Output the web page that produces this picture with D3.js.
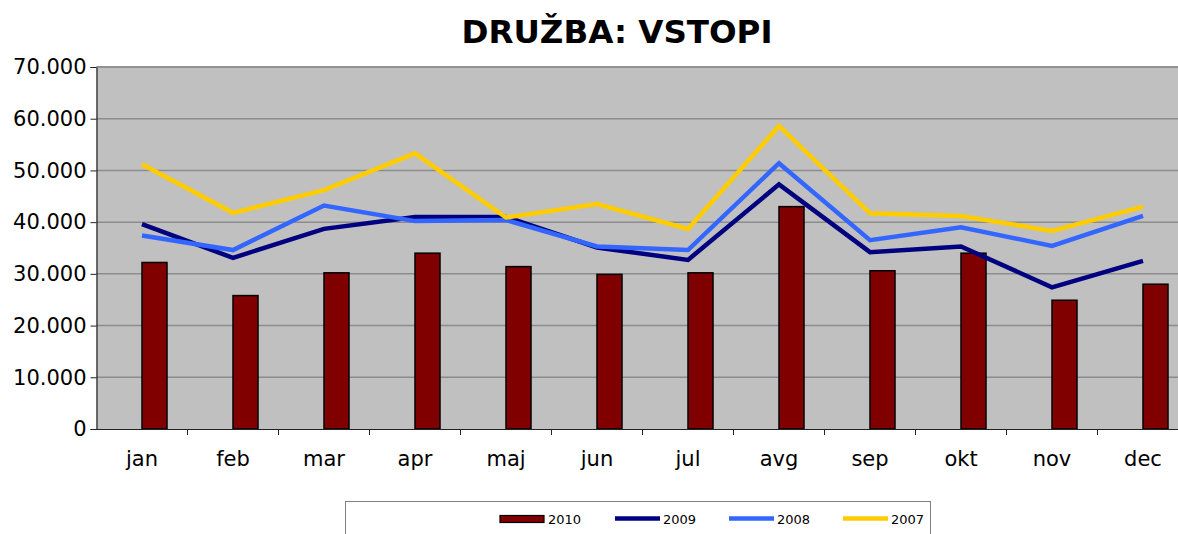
<!DOCTYPE html>
<html>
<head>
<meta charset="utf-8">
<script src="https://cdn.jsdelivr.net/npm/d3@7"></script>
<style>
  html, body { margin: 0; padding: 0; background: #fff; overflow: hidden; }
  svg { display: block; font-family: "DejaVu Sans", Verdana, sans-serif; }
</style>
</head>
<body>
<svg id="chart" width="1178" height="534"></svg>
<script>
(function() {
  'use strict';

  // --- data ---
  const months = ['jan', 'feb', 'mar', 'apr', 'maj', 'jun', 'jul', 'avg', 'sep', 'okt', 'nov', 'dec'];
  const v2010 = [32200, 25800, 30200, 34000, 31400, 29900, 30200, 43000, 30600, 34000, 24900, 28000];
  const v2009 = [39600, 33100, 38700, 41000, 41000, 35100, 32700, 47300, 34200, 35300, 27400, 32500];
  const v2008 = [37400, 34600, 43200, 40200, 40400, 35300, 34600, 51400, 36500, 39000, 35400, 41200];
  const v2007 = [51200, 41800, 46200, 53300, 40900, 43500, 38700, 58600, 41700, 41200, 38300, 43000];
  const yTicks = [0, 10000, 20000, 30000, 40000, 50000, 60000, 70000];
  const lineSeries = [
    { name: '2009', values: v2009, color: '#000080' },
    { name: '2008', values: v2008, color: '#3366ff' },
    { name: '2007', values: v2007, color: '#ffcc00' }
  ];

  const svg = d3.select('#chart');

  // plot area (runs past the right edge of the window, as in the original)
  const left = 96.5, top = 67, bottom = 429;
  const bandW = 91;
  const right = left + bandW * months.length;

  const x = d3.scaleBand().domain(months).range([left, right]);
  const y = d3.scaleLinear().domain([0, 70000]).range([bottom, top]);
  const fmt = d => d3.format(',')(d).replace(/,/g, '.');

  // Background
  svg.append('rect')
    .attr('x', left).attr('y', top)
    .attr('width', right - left).attr('height', bottom - top)
    .attr('fill', '#c0c0c0');

  // Gridlines
  svg.append('g')
    .selectAll('line')
    .data(yTicks.filter(d => d > 0))
    .enter()
    .append('line')
    .attr('x1', left).attr('x2', right)
    .attr('y1', d => y(d)).attr('y2', d => y(d))
    .attr('stroke', '#8c8c8c')
    .attr('stroke-width', 1.5);

  // Bars (2010) - drawn from category centre to the right
  const barW = 25;
  svg.append('g')
    .selectAll('rect')
    .data(v2010)
    .enter()
    .append('rect')
    .attr('x', (d, i) => x(months[i]) + bandW / 2)
    .attr('y', d => y(d))
    .attr('width', barW)
    .attr('height', d => bottom - y(d))
    .attr('fill', '#800000')
    .attr('stroke', '#000')
    .attr('stroke-width', 1.5);

  // Lines
  const line = d3.line()
    .x((d, i) => x(months[i]) + bandW / 2)
    .y(d => y(d));

  svg.append('g')
    .selectAll('path')
    .data(lineSeries)
    .enter()
    .append('path')
    .attr('d', d => line(d.values))
    .attr('fill', 'none')
    .attr('stroke', d => d.color)
    .attr('stroke-width', 4.5)
    .attr('stroke-linejoin', 'miter');

  // Y axis
  const yAxis = svg.append('g')
    .attr('transform', `translate(${left},0)`)
    .call(d3.axisLeft(y).tickValues(yTicks).tickFormat(fmt).tickSize(6).tickPadding(4));
  yAxis.select('.domain').attr('stroke', '#222').attr('stroke-width', 1.2);
  yAxis.selectAll('.tick line').attr('stroke', '#222');
  yAxis.selectAll('.tick text')
    .attr('font-family', '"DejaVu Sans", Verdana, sans-serif')
    .attr('font-size', 21)
    .attr('fill', '#000');

  // X axis
  const xAxis = svg.append('g')
    .attr('transform', `translate(0,${bottom})`)
    .call(d3.axisBottom(x).tickSize(0).tickPadding(22));
  xAxis.select('.domain').attr('stroke', '#222').attr('stroke-width', 1.2);
  xAxis.selectAll('.tick text')
    .attr('font-family', '"DejaVu Sans", Verdana, sans-serif')
    .attr('font-size', 21)
    .attr('fill', '#000');

  // category boundary ticks
  svg.append('g')
    .selectAll('line')
    .data(months.slice(1))
    .enter()
    .append('line')
    .attr('x1', d => x(d)).attr('x2', d => x(d))
    .attr('y1', bottom).attr('y2', bottom + 6)
    .attr('stroke', '#222');

  // Top border of plot area
  svg.append('line')
    .attr('x1', left).attr('x2', right)
    .attr('y1', top).attr('y2', top)
    .attr('stroke', '#8c8c8c')
    .attr('stroke-width', 1.5);

  // Title
  svg.append('text')
    .attr('x', 617).attr('y', 43)
    .attr('text-anchor', 'middle')
    .attr('font-size', 32.5)
    .attr('font-weight', 'bold')
    .text('DRUŽBA: VSTOPI');

  // Legend
  const legend = svg.append('g');
  legend.append('rect')
    .attr('x', 345.5).attr('y', 501.5)
    .attr('width', 585).attr('height', 60)
    .attr('fill', '#fff')
    .attr('stroke', '#808080');

  const legendItems = [
    { name: '2010', color: '#800000', bar: true, x: 500 },
    { name: '2009', color: '#000080', bar: false, x: 615 },
    { name: '2008', color: '#3366ff', bar: false, x: 729 },
    { name: '2007', color: '#ffcc00', bar: false, x: 843 }
  ];
  const li = legend.selectAll('g.item')
    .data(legendItems)
    .enter()
    .append('g')
    .attr('class', 'item');
  li.filter(d => d.bar).append('rect')
    .attr('x', d => d.x).attr('y', 515.5)
    .attr('width', 44).attr('height', 7)
    .attr('fill', d => d.color)
    .attr('stroke', '#000')
    .attr('stroke-width', 1.2);
  li.filter(d => !d.bar).append('line')
    .attr('x1', d => d.x).attr('x2', d => d.x + 45)
    .attr('y1', 518.5).attr('y2', 518.5)
    .attr('stroke', d => d.color)
    .attr('stroke-width', 4.5);
  li.append('text')
    .attr('x', d => d.x + 48).attr('y', 524)
    .attr('font-size', 13)
    .text(d => d.name);
})();
</script>
</body>
</html>
